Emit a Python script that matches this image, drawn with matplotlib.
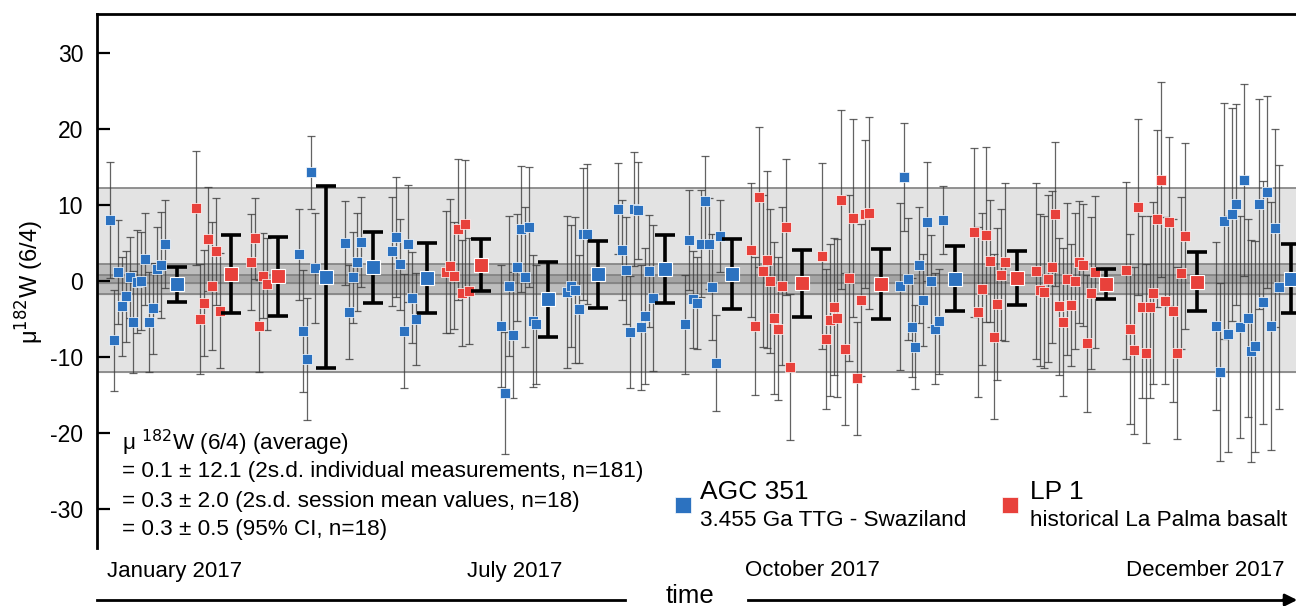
import matplotlib
matplotlib.use("Agg")
import matplotlib.pyplot as plt
import matplotlib.lines as mlines
import numpy as np

plt.rcParams['font.family'] = ['Liberation Sans', 'DejaVu Sans']
plt.rcParams['axes.unicode_minus'] = False

# Session layout: sample measured, first run slot, number of runs
session_sample = ["AGC", "LP", "LP", "AGC", "AGC", "AGC", "LP", "AGC", "AGC",
                  "AGC", "AGC", "LP", "LP", "AGC", "LP", "LP", "LP", "AGC"]
session_start = [3.3, 25.3, 39.3, 51.5, 63.3, 75.3, 89.0, 103.1, 119.9,
                 132.9, 150.0, 166.8, 184.9, 204.8, 223.7, 239.5, 262.5, 285.5]
session_n = [15, 7, 5, 5, 5, 7, 7, 10, 6, 10, 10, 11, 13, 12, 9, 16, 16, 17]

# Session means and 2 s.d.
session_mean = [-0.4, 0.9, 0.6, 0.5, 1.8, 0.4, 2.1, -2.4, 0.9,
                1.6, 0.9, -0.3, -0.4, 0.3, 0.4, -0.4, -0.1, 0.3]
session_err = [2.3, 5.1, 5.2, 12.0, 4.7, 4.6, 3.4, 4.9, 4.4,
               4.5, 4.6, 4.4, 4.6, 4.3, 3.6, 2.0, 3.9, 4.5]

# Individual measurements (mu182W) in run order, with 2 s.e.
meas_val = [
    8.0, -7.8, 1.2, -3.3, -2.0, 0.5, -5.4, -0.1, 0.0, 2.9, -5.4, -3.6, 1.6, 2.1, 4.9,
    9.6, -5.0, -2.9, 5.5, -0.7, 3.9, -3.9,
    2.5, 5.6, -5.9, 0.7, -0.4,
    3.5, -6.6, -10.3, 14.3, 1.7,
    5.0, -4.1, 0.5, 2.5, 5.1,
    3.9, 5.8, 2.2, -6.6, 4.9, -2.2, -5.0,
    1.2, 2.0, 0.7, 6.8, -1.6, 7.5, -1.3,
    -5.9, -14.7, -0.7, -7.1, 1.8, 6.8, 0.5, 7.1, -5.3, -5.7,
    -1.4, -0.7, -1.2, -3.7, 6.2, 6.2,
    9.5, 4.1, 1.4, -6.7, 9.5, 9.3, -6.1, -4.6, 1.3, -2.2,
    -5.7, 5.4, -2.4, -2.9, 4.9, 10.5, 4.9, -0.8, -10.8, 5.9,
    4.1, -5.9, 11.1, 1.3, 2.8, 0.0, -4.9, -6.3, -0.7, 7.1, -11.3,
    3.3, -7.6, -5.1, -3.4, -4.9, 10.7, -8.9, 0.4, 8.3, -12.8, -2.5, 8.8, 8.9,
    -0.7, 13.7, 0.3, -6.1, -8.7, 2.1, -2.5, 7.8, 0.0, -6.3, -5.3, 8.0,
    6.4, -4.1, -1.1, 6.1, 2.6, -7.3, -3.0, 0.8, 2.5,
    1.3, -1.2, -1.4, 0.3, 1.8, 8.8, -3.3, -5.4, 0.3, -3.2, 0.0, 2.5, 2.1, -8.2, -1.6, 1.2,
    1.4, -6.3, -9.1, 9.7, -3.4, -9.5, -3.4, -1.6, 8.2, 13.3, -2.6, 7.8, -3.9, -9.5, 1.1, 5.9,
    -5.9, -12.0, 7.9, -7.0, 8.8, 10.1, -6.1, 13.3, -4.9, -9.2, -8.6, 10.1, -2.8, 11.7, -5.9, 7.0, -0.8,
]
meas_err = [
    7.6, 6.6, 6.8, 6.5, 6.0, 5.3, 6.7, 6.8, 6.5, 6.0, 6.6, 6.0, 5.5, 7.0, 5.8,
    7.5, 7.2, 7.0, 6.8, 8.4, 7.0, 7.6,
    6.3, 5.3, 6.0, 5.6, 6.0,
    6.0, 8.0, 8.0, 4.8, 7.2,
    5.5, 6.2, 6.0, 6.5, 5.9,
    7.2, 7.9, 6.0, 7.5, 7.7, 6.0, 6.0,
    8.0, 8.8, 7.0, 9.3, 7.0, 8.4, 7.0,
    8.0, 8.0, 9.2, 8.3, 7.0, 8.3, 9.2, 7.9, 8.7, 7.8,
    10.0, 8.0, 9.6, 7.1, 8.7, 9.2,
    6.0, 6.6, 7.0, 7.4, 7.5, 6.4, 8.2, 9.0, 7.4, 9.6,
    6.5, 6.6, 6.4, 6.0, 7.0, 5.9, 6.0, 7.0, 6.3, 4.7,
    8.8, 9.1, 9.2, 10.0, 11.6, 9.4, 10.0, 9.4, 10.4, 8.9, 9.6,
    12.2, 9.2, 10.0, 9.0, 10.4, 11.8, 10.0, 10.9, 13.0, 7.4, 10.0, 9.7, 12.6,
    11.0, 7.1, 8.0, 6.5, 5.5, 7.6, 6.0, 7.8, 6.0, 7.3, 6.9, 4.5,
    11.1, 11.2, 10.0, 11.5, 8.0, 10.8, 10.0, 8.6, 10.4,
    11.6, 10.0, 10.0, 11.0, 10.0, 9.5, 9.0, 9.7, 10.0, 8.0, 9.0, 8.0, 8.0, 9.0, 10.0, 10.0,
    11.6, 12.5, 11.0, 11.6, 12.0, 11.8, 12.0, 12.0, 11.6, 12.8, 11.0, 11.1, 12.0, 11.3, 10.0, 12.2,
    11.0, 11.7, 15.5, 15.5, 14.0, 13.2, 14.6, 12.6, 13.0, 14.6, 13.9, 13.8, 16.0, 12.6, 16.3, 13.0, 16.0,
]

# Long-term reproducibility
grand_mean_ind, sd_ind = 0.1, 12.1
grand_mean_ses, sd_ses = 0.3, 2.0
ci_mean, ci_95 = 0.3, 0.5

month_pos = [19.9, 106.6, 182.4, 282.7]
month_labels = ["January 2017", "July 2017", "October 2017", "December 2017"]

colors = {"AGC": "#2c72c0", "LP": "#e8413b"}
W, H = 1296, 606

fig = plt.figure(figsize=(W / 100, H / 100), dpi=100)
ax = fig.add_axes([97 / W, 58 / H, 1203 / W, 534 / H])

# reproducibility bands
band_edge = "#808080"
ax.axhspan(grand_mean_ind - sd_ind, grand_mean_ind + sd_ind, color="#e3e3e3", zorder=0)
ax.axhspan(grand_mean_ses - sd_ses, grand_mean_ses + sd_ses, color="#bdbdbd", zorder=0.2)
ax.axhspan(ci_mean - ci_95, ci_mean + ci_95, color="#a4a4a4", zorder=0.3)
for yv in [grand_mean_ind - sd_ind, grand_mean_ind + sd_ind,
           grand_mean_ses - sd_ses, grand_mean_ses + sd_ses,
           ci_mean - ci_95, ci_mean + ci_95]:
    ax.axhline(yv, color=band_edge, lw=1.2, zorder=0.4)

idx = 0
for s in range(len(session_n)):
    n = session_n[s]
    xs = session_start[s] + np.arange(n)
    vals = meas_val[idx:idx + n]
    errs = meas_err[idx:idx + n]
    idx += n
    c = colors[session_sample[s]]
    ax.errorbar(xs, vals, yerr=errs, fmt="none", ecolor="#3c3c3c", elinewidth=0.9,
                capsize=3.2, capthick=0.9, alpha=0.8, zorder=2)
    ax.plot(xs, vals, "s", color=c, markersize=6.6, markeredgecolor="white",
            markeredgewidth=0.5, zorder=3)
    xm = xs[-1] + 3
    ax.errorbar([xm], [session_mean[s]], yerr=[session_err[s]], fmt="none",
                ecolor="black", elinewidth=2.6, capsize=7.5, capthick=2.6, zorder=4)
    ax.plot([xm], [session_mean[s]], "s", color=c, markersize=9.5,
            markeredgecolor="white", markeredgewidth=0.8, zorder=5)

ax.set_xlim(0, 1203 / 3.92)
ax.set_ylim(-35.1, 35.1)
ax.set_yticks([-30, -20, -10, 0, 10, 20, 30])
ax.tick_params(axis="y", direction="in", length=9, width=1.6, labelsize=16.5, pad=10)
ax.set_xticks(month_pos, month_labels)
ax.tick_params(axis="x", length=0, labelsize=16, pad=9)
for side in ["right", "bottom"]:
    ax.spines[side].set_visible(False)
for side in ["left", "top"]:
    ax.spines[side].set_linewidth(2)

fig.text(30 / W, 1 - 282 / H, "μ$^{182}$W (6/4)", rotation=90, fontsize=17,
         ha="center", va="center")

# summary statistics
fs = 16.2
fig.text(122 / W, 1 - 443 / H, "μ $^{182}$W (6/4) (average)", fontsize=fs, va="center")
fig.text(122 / W, 1 - 471 / H,
         f"= {grand_mean_ind} ± {sd_ind} (2s.d. individual measurements, n={len(meas_val)})",
         fontsize=fs, va="center")
fig.text(122 / W, 1 - 501 / H,
         f"= {grand_mean_ses} ± {sd_ses} (2s.d. session mean values, n={len(session_n)})",
         fontsize=fs, va="center")
fig.text(122 / W, 1 - 529 / H, f"= {ci_mean} ± {ci_95} (95% CI, n={len(session_n)})",
         fontsize=fs, va="center")

# sample key
for xsq, xt, name, desc, key in [(683, 700, "AGC 351", "3.455 Ga TTG - Swaziland", "AGC"),
                                 (1010, 1030, "LP 1", "historical La Palma basalt", "LP")]:
    fig.add_artist(mlines.Line2D([xsq / W], [1 - 505 / H], marker="s", markersize=11,
                                 color=colors[key], markeredgecolor="white",
                                 markeredgewidth=0.5, linestyle="none"))
    fig.text(xt / W, 1 - 492 / H, name, fontsize=19, va="center")
    fig.text(xt / W, 1 - 520 / H, desc, fontsize=16.2, va="center")

# time arrow
fig.text(690 / W, 1 - 596 / H, "time", fontsize=18.5, ha="center", va="center")
fig.add_artist(mlines.Line2D([97 / W, 625 / W], [1 - 600 / H] * 2, color="black", lw=2))
fig.add_artist(mlines.Line2D([748 / W, 1285 / W], [1 - 600 / H] * 2, color="black", lw=2))
ax.annotate("", xy=(1300 / W, 1 - 600 / H), xytext=(1280 / W, 1 - 600 / H),
            xycoords="figure fraction", textcoords="figure fraction",
            arrowprops=dict(arrowstyle="-|>", color="black", lw=2, mutation_scale=18))

fig.savefig("out.png", dpi=100)
